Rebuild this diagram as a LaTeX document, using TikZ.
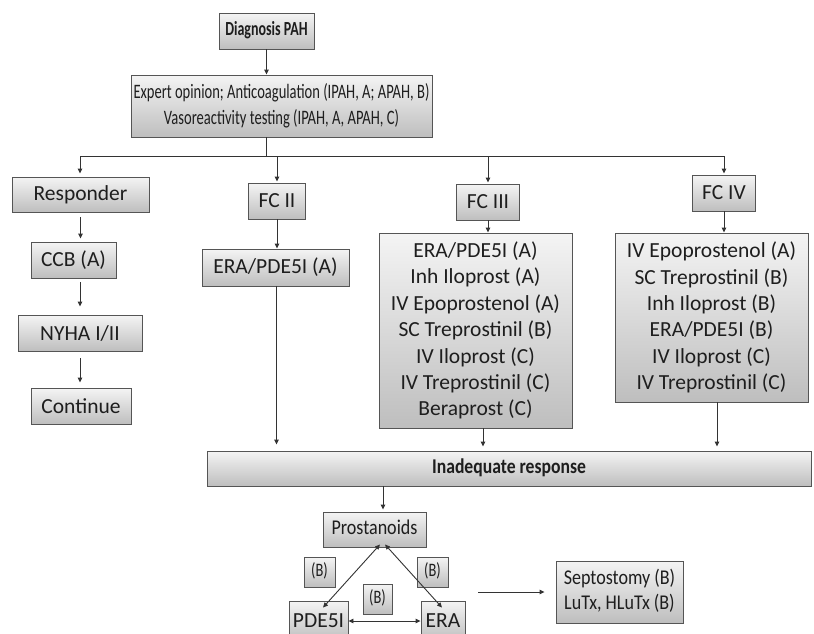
\documentclass[tikz,border=0pt]{standalone}
\usepackage{fontspec}
\setmainfont{Carlito}
\usetikzlibrary{arrows.meta}
\definecolor{boxline}{HTML}{555555}
\definecolor{boxtop}{HTML}{F4F4F4}
\definecolor{boxbot}{HTML}{BEBEBE}
\definecolor{ink}{HTML}{1E1E1E}
\definecolor{wire}{HTML}{333333}
\newcommand\hsq[2]{\scalebox{#1}[1]{\begin{tabular}{@{}c@{}}#2\end{tabular}}}
\tikzset{
  box/.style={draw=boxline, line width=0.9pt, top color=boxtop, bottom color=boxbot,
    text=ink, inner sep=0pt, align=center},
  wire/.style={draw=wire, line width=0.9pt},
  arr/.style={wire, -{Triangle[length=5pt,width=4.5pt]}},
  darr/.style={wire, {Triangle[length=5pt,width=4.5pt]}-{Triangle[length=5pt,width=4.5pt]}},
  ftop/.style={font=\fontsize{20.5}{26}\selectfont},
  fs/.style={font=\fontsize{21}{25}\selectfont},
  fm/.style={font=\fontsize{21.5}{26.4}\selectfont},
}
\begin{document}
\begin{tikzpicture}[x=1pt,y=-1pt]
\clip (0,0) rectangle (814,633);
\fill[white] (0,0) rectangle (814,633);
% top
\node[box, font=\bfseries\fontsize{20}{24}\selectfont, minimum width=95pt, minimum height=36pt] (diag) at (266.5,31) {\hsq{0.7}{Diagnosis PAH}};
\node[box, ftop, minimum width=301pt, minimum height=62pt] (expert) at (281.5,106)
  {\hsq{0.71}{Expert opinion; Anticoagulation (IPAH, A; APAH, B)\\Vasoreactivity testing (IPAH, A, APAH, C)}};
% left column
\node[box, fm, minimum width=137pt, minimum height=35pt] (resp) at (80.5,194.5) {Responder};
\node[box, fm, minimum width=85pt, minimum height=36pt] (ccb) at (73.5,260) {CCB (A)};
\node[box, fm, minimum width=124pt, minimum height=36pt] (nyha) at (80,333) {NYHA I/II};
\node[box, fm, minimum width=100pt, minimum height=36pt] (cont) at (81,406) {Continue};
% FC II
\node[box, fm, minimum width=57pt, minimum height=36pt] (fc2) at (277,201) {FC II};
\node[box, fm, minimum width=147pt, minimum height=37pt] (era2) at (275.5,267.5) {ERA/PDE5I (A)};
% FC III
\node[box, fm, minimum width=63pt, minimum height=36pt] (fc3) at (488,202) {FC III};
\node[box, fm, minimum width=193pt, minimum height=195pt] (fc3list) at (475.5,330.5)
  {ERA/PDE5I (A)\\Inh Iloprost (A)\\IV Epoprostenol (A)\\SC Treprostinil (B)\\IV Iloprost (C)\\IV Treprostinil (C)\\Beraprost (C)};
% FC IV
\node[box, fm, minimum width=63pt, minimum height=36pt] (fc4) at (724,193) {FC IV};
\node[box, fm, minimum width=193pt, minimum height=169pt] (fc4list) at (711.5,317.5)
  {IV Epoprostenol (A)\\SC Treprostinil (B)\\Inh Iloprost (B)\\ERA/PDE5I (B)\\IV Iloprost (C)\\IV Treprostinil (C)};
% inadequate
\node[box, font=\bfseries\fontsize{21}{25}\selectfont, minimum width=604pt, minimum height=35pt] (inad) at (509,468.5) {\hsq{0.84}{Inadequate response}};
\node[box, fs, minimum width=103pt, minimum height=35pt] (prost) at (374.5,529.5) {\hsq{0.86}{Prostanoids}};
\node[box, font=\fontsize{19}{22}\selectfont, minimum width=31pt, minimum height=30pt] (bl) at (319.5,572) {\hsq{0.76}{(B)}};
\node[box, font=\fontsize{19}{22}\selectfont, minimum width=31pt, minimum height=30pt] (br) at (432.5,572) {\hsq{0.76}{(B)}};
\node[box, font=\fontsize{19}{22}\selectfont, minimum width=29pt, minimum height=30pt] (bm) at (377.5,599) {\hsq{0.76}{(B)}};
\node[box, fm, minimum width=59pt, minimum height=40pt] (pde) at (318.5,621) {PDE5I};
\node[box, fm, minimum width=44pt, minimum height=40pt] (era) at (443,621) {ERA};
\node[box, fs, minimum width=127pt, minimum height=62pt] (sept) at (619.5,592) {\hsq{0.86}{Septostomy (B)\\LuTx, HLuTx (B)}};
% connectors
\coordinate (bus) at (266,156);
\coordinate (busl) at (80,156);
\coordinate (s0) at (478,592);
\draw[arr] (diag.south) -- (diag.south |- expert.north);
\draw[wire] (bus |- expert.south) -- (bus);
\draw[wire] (busl) -- (fc4.north |- bus);
\draw[arr, shorten >=3pt] (busl) -- (busl |- resp.north);
\draw[arr, shorten >=1pt] (fc2.north |- bus) -- (fc2.north);
\draw[arr, shorten >=1pt] (fc3.north |- bus) -- (fc3.north);
\draw[arr, shorten >=1pt] (fc4.north |- bus) -- (fc4.north);
\draw[arr, shorten <=5pt, shorten >=3pt] (resp.south) -- (resp.south |- ccb.north);
\draw[arr, shorten <=4pt, shorten >=8pt] (nyha.north |- ccb.south) -- (nyha.north);
\draw[arr, shorten <=7pt, shorten >=5pt] (nyha.south) -- (nyha.south |- cont.north);
\draw[arr] (fc2.south) -- (fc2.south |- era2.north);
\draw[arr, shorten >=6pt] ([xshift=1pt]era2.south) -- ([xshift=1pt]era2.south |- inad.north);
\draw[arr] (fc3.south) -- (fc3.south |- fc3list.north);
\draw[arr, shorten >=4pt] ([xshift=7.5pt]fc3list.south) -- ([xshift=7.5pt]fc3list.south |- inad.north);
\draw[arr] (fc4.south) -- (fc4.south |- fc4list.north);
\draw[arr, shorten >=4pt] ([xshift=5.5pt]fc4list.south) -- ([xshift=5.5pt]fc4list.south |- inad.north);
\draw[arr, shorten >=2pt] ([xshift=8.5pt]prost.north |- inad.south) -- ([xshift=8.5pt]prost.north);
\draw[darr] ([xshift=5.5pt,yshift=3pt]prost.south) -- ([xshift=4.5pt,yshift=-7pt]pde.north);
\draw[darr] ([xshift=10.5pt,yshift=3pt]prost.south) -- ([xshift=-1pt,yshift=-7pt]era.north);
\draw[darr] (pde.east) -- (era.west);
\draw[arr] (s0) -- ([xshift=-11pt]sept.west);
\end{tikzpicture}
\end{document}
